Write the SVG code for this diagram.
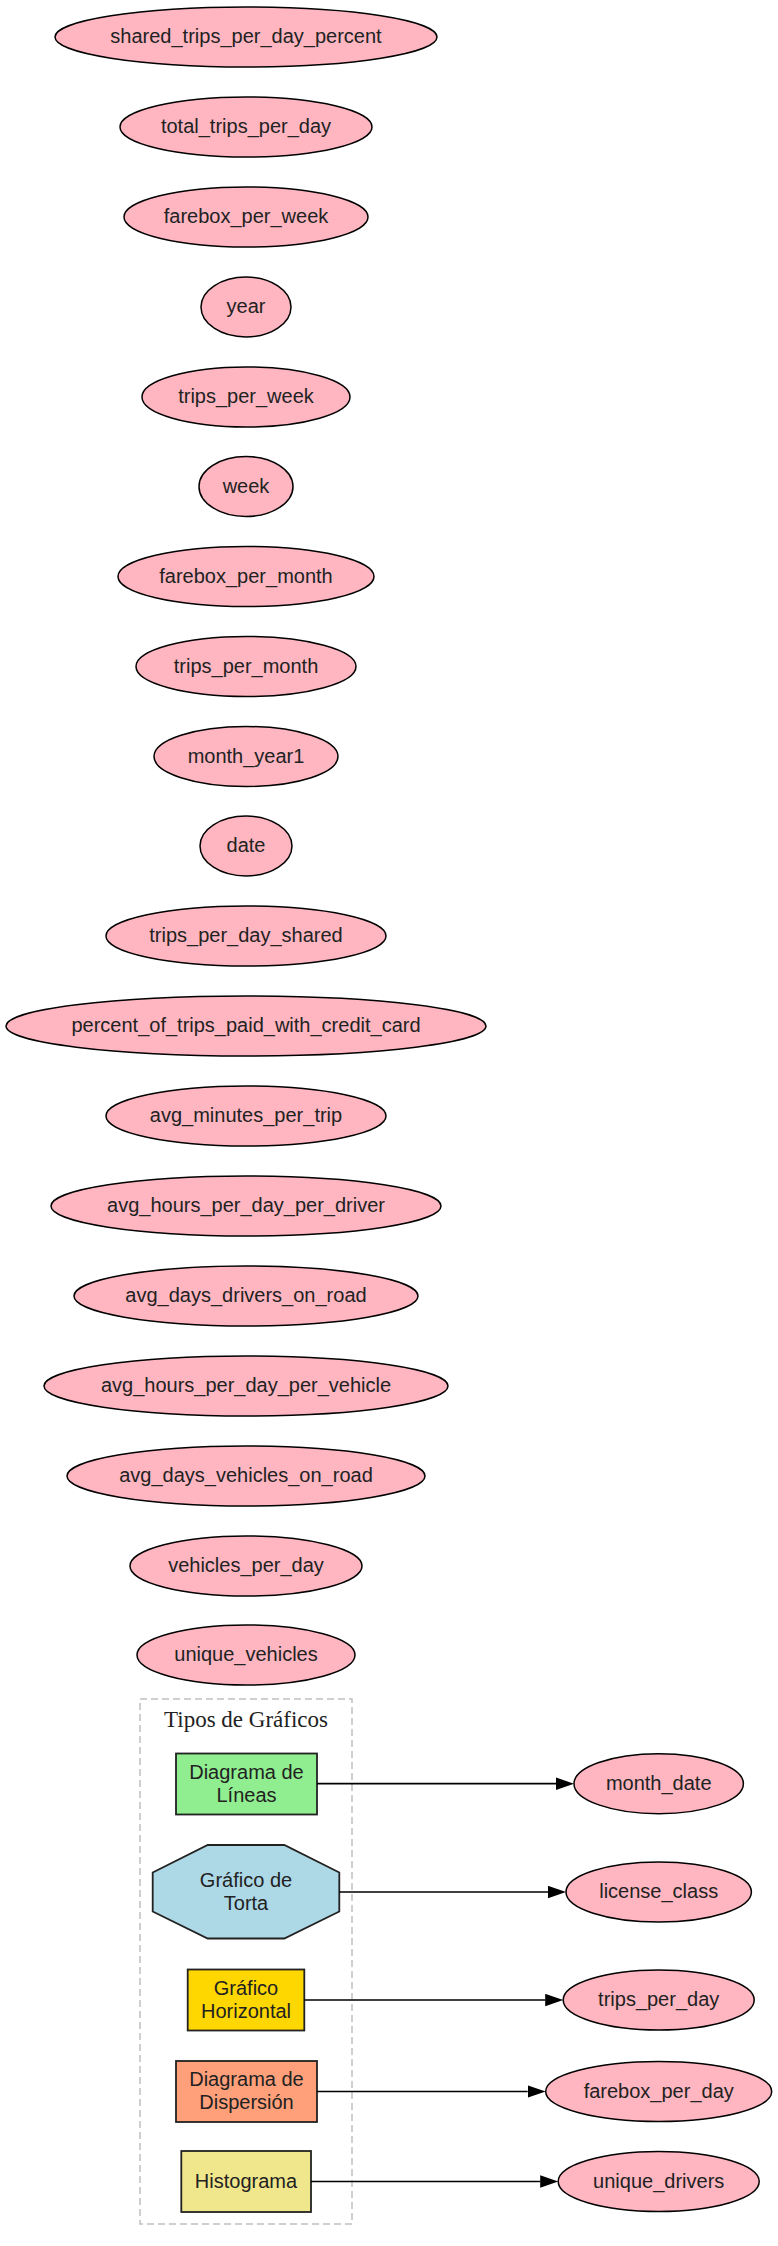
<svg xmlns="http://www.w3.org/2000/svg" width="778" height="2246" viewBox="0 0 778 2246">
<style>
  .bg { fill: #ffffff; }
  .field { fill: #FFB6C1; stroke: #000000; stroke-width: 1.5; }
  .lbl { font-family: "Liberation Sans", Arial, sans-serif; font-size: 20px; fill: #222222; text-anchor: middle; }
  .title { font-family: "Liberation Serif", "Times New Roman", serif; font-size: 23px; fill: #222222; text-anchor: middle; }
  .chart { stroke: #222222; stroke-width: 1.8; }
  .cluster { fill: none; stroke: #c0c0c0; stroke-width: 1.5; stroke-dasharray: 7,4; }
  .edge { fill: none; stroke: #000000; stroke-width: 1.7; marker-end: url(#arrow); }
</style>
<defs>
  <marker id="arrow" markerUnits="userSpaceOnUse" markerWidth="19" markerHeight="14" refX="0" refY="6.5" orient="auto">
    <path d="M0,0.3 L18,6.5 L0,12.7 z" fill="#000000"/>
  </marker>
</defs>
<rect class="bg" x="0" y="0" width="778" height="2246"/>

<g id="n_shared_trips_per_day_percent"><ellipse class="field" cx="246" cy="37" rx="191" ry="30"/><text class="lbl" x="246" y="43">shared_trips_per_day_percent</text></g>
<g id="n_total_trips_per_day"><ellipse class="field" cx="246" cy="127" rx="126" ry="30"/><text class="lbl" x="246" y="133">total_trips_per_day</text></g>
<g id="n_farebox_per_week"><ellipse class="field" cx="246" cy="217" rx="122" ry="30"/><text class="lbl" x="246" y="223">farebox_per_week</text></g>
<g id="n_year"><ellipse class="field" cx="246" cy="307" rx="45" ry="30"/><text class="lbl" x="246" y="313">year</text></g>
<g id="n_trips_per_week"><ellipse class="field" cx="246" cy="397" rx="104" ry="30"/><text class="lbl" x="246" y="403">trips_per_week</text></g>
<g id="n_week"><ellipse class="field" cx="246" cy="486.5" rx="47" ry="30"/><text class="lbl" x="246" y="492.5">week</text></g>
<g id="n_farebox_per_month"><ellipse class="field" cx="246" cy="576.5" rx="128" ry="30"/><text class="lbl" x="246" y="582.5">farebox_per_month</text></g>
<g id="n_trips_per_month"><ellipse class="field" cx="246" cy="666.5" rx="110" ry="30"/><text class="lbl" x="246" y="672.5">trips_per_month</text></g>
<g id="n_month_year1"><ellipse class="field" cx="246" cy="756.5" rx="92" ry="30"/><text class="lbl" x="246" y="762.5">month_year1</text></g>
<g id="n_date"><ellipse class="field" cx="246" cy="846" rx="46" ry="30"/><text class="lbl" x="246" y="852">date</text></g>
<g id="n_trips_per_day_shared"><ellipse class="field" cx="246" cy="936" rx="140" ry="30"/><text class="lbl" x="246" y="942">trips_per_day_shared</text></g>
<g id="n_percent_of_trips_paid_with_credit_card"><ellipse class="field" cx="246" cy="1026" rx="240" ry="30"/><text class="lbl" x="246" y="1032">percent_of_trips_paid_with_credit_card</text></g>
<g id="n_avg_minutes_per_trip"><ellipse class="field" cx="246" cy="1116" rx="140" ry="30"/><text class="lbl" x="246" y="1122">avg_minutes_per_trip</text></g>
<g id="n_avg_hours_per_day_per_driver"><ellipse class="field" cx="246" cy="1206" rx="195" ry="30"/><text class="lbl" x="246" y="1212">avg_hours_per_day_per_driver</text></g>
<g id="n_avg_days_drivers_on_road"><ellipse class="field" cx="246" cy="1296" rx="172" ry="30"/><text class="lbl" x="246" y="1302">avg_days_drivers_on_road</text></g>
<g id="n_avg_hours_per_day_per_vehicle"><ellipse class="field" cx="246" cy="1386" rx="202" ry="30"/><text class="lbl" x="246" y="1392">avg_hours_per_day_per_vehicle</text></g>
<g id="n_avg_days_vehicles_on_road"><ellipse class="field" cx="246" cy="1476" rx="179" ry="30"/><text class="lbl" x="246" y="1482">avg_days_vehicles_on_road</text></g>
<g id="n_vehicles_per_day"><ellipse class="field" cx="246" cy="1566" rx="116" ry="30"/><text class="lbl" x="246" y="1572">vehicles_per_day</text></g>
<g id="n_unique_vehicles"><ellipse class="field" cx="246" cy="1655" rx="109" ry="30"/><text class="lbl" x="246" y="1661">unique_vehicles</text></g>

<g id="cluster_tipos">
  <rect class="cluster" x="140" y="1699" width="212" height="525"/>
  <text class="title" x="246" y="1727">Tipos de Gráficos</text>
</g>

<g id="n_lineas"><rect class="chart" x="176" y="1753.5" width="141" height="61" fill="#90EE90"/><text class="lbl" x="246.5" y="1778.5">Diagrama de</text><text class="lbl" x="246.5" y="1801.5">Líneas</text></g>
<g id="n_torta"><polygon class="chart" points="207.7,1845 284.3,1845 339.3,1872.5 339.3,1911.5 284.3,1938.5 207.7,1938.5 152.7,1911.5 152.7,1872.5" fill="#ADD8E6"/><text class="lbl" x="246" y="1886.5">Gráfico de</text><text class="lbl" x="246" y="1909.5">Torta</text></g>
<g id="n_horizontal"><rect class="chart" x="187.7" y="1969.5" width="116.6" height="61" fill="#FFD700"/><text class="lbl" x="246" y="1994.5">Gráfico</text><text class="lbl" x="246" y="2017.5">Horizontal</text></g>
<g id="n_dispersion"><rect class="chart" x="176" y="2061" width="141" height="61" fill="#FFA07A"/><text class="lbl" x="246.5" y="2086">Diagrama de</text><text class="lbl" x="246.5" y="2109">Dispersión</text></g>
<g id="n_histograma"><rect class="chart" x="181.3" y="2151" width="129.7" height="61" fill="#F0E68C"/><text class="lbl" x="246" y="2188">Histograma</text></g>

<g id="n_month_date"><ellipse class="field" cx="658.7" cy="1783.7" rx="84.7" ry="30"/><text class="lbl" x="658.7" y="1789.7">month_date</text></g>
<g id="n_license_class"><ellipse class="field" cx="658.7" cy="1892" rx="92.7" ry="30"/><text class="lbl" x="658.7" y="1898">license_class</text></g>
<g id="n_trips_per_day"><ellipse class="field" cx="658.7" cy="2000" rx="95.5" ry="30"/><text class="lbl" x="658.7" y="2006">trips_per_day</text></g>
<g id="n_farebox_per_day"><ellipse class="field" cx="658.7" cy="2091.5" rx="113" ry="30"/><text class="lbl" x="658.7" y="2097.5">farebox_per_day</text></g>
<g id="n_unique_drivers"><ellipse class="field" cx="658.7" cy="2181.5" rx="100.5" ry="30"/><text class="lbl" x="658.7" y="2187.5">unique_drivers</text></g>

<g id="edges">
  <line class="edge" x1="317" y1="1783.7" x2="556" y2="1783.7"/>
  <line class="edge" x1="339.3" y1="1892" x2="548" y2="1892"/>
  <line class="edge" x1="304.3" y1="2000" x2="545.2" y2="2000"/>
  <line class="edge" x1="317" y1="2091.5" x2="527.7" y2="2091.5"/>
  <line class="edge" x1="311" y1="2181.5" x2="540.2" y2="2181.5"/>
</g>
</svg>
